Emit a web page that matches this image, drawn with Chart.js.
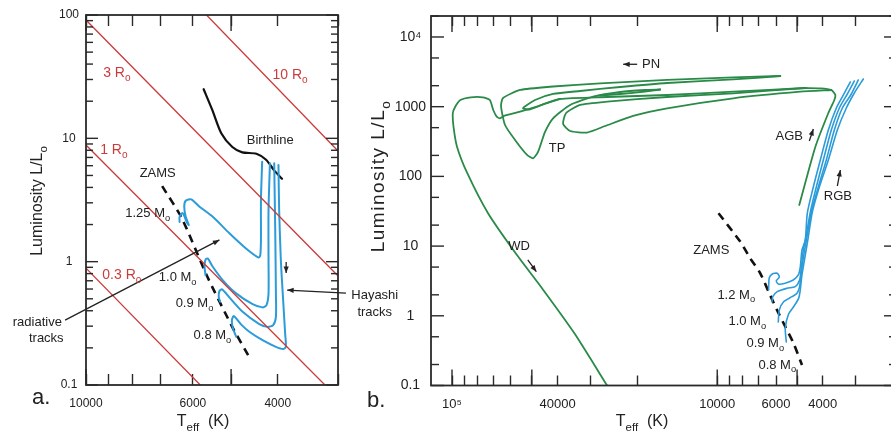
<!DOCTYPE html>
<html>
<head>
<meta charset="utf-8">
<script src="https://cdn.jsdelivr.net/npm/chart.js@4.4.1/dist/chart.umd.min.js"></script>
<style>
  html, body { margin: 0; padding: 0; background: #fff; overflow: hidden; width: 891px; height: 432px; }
  canvas { position: absolute; top: 0; }
  #chartA { left: 0; }
  #chartB { left: 350px; }
</style>
</head>
<body>
<canvas id="chartA" width="410" height="432"></canvas>
<canvas id="chartB" width="560" height="432"></canvas>
<script>
// ---------- panel a: pre-main-sequence (Teff in K, L in Lsun) ----------
const aBirthT = [5700, 5470, 5240, 4970, 4740, 4430, 4230, 4070, 3920];
const aBirthL = [25, 17, 11, 8.5, 7.7, 7.5, 6.7, 5.5, 4.7];

const aTrack125T = [4310, 4335, 4335, 4349, 4384, 4656, 5041, 5457, 5814, 6048, 6210, 6254, 6210, 6120, 6180, 6304, 6395, 6395];
const aTrack125L = [6.46, 3.16, 1.50, 1.13, 1.08, 1.28, 1.70, 2.31, 2.79, 3.20, 3.12, 2.79, 2.31, 1.98, 2.10, 2.48, 2.31, 2.10];
const aTrack10T = [4153, 4181, 4181, 4181, 4221, 4302, 4511, 4882, 5205, 5457, 5588, 5650, 5676, 5650];
const aTrack10L = [6.27, 2.62, 1.03, 0.553, 0.445, 0.426, 0.453, 0.553, 0.709, 0.909, 1.06, 1.04, 0.909, 0.779];
const aTrack09T = [4069, 4050, 4036, 4036, 4089, 4200, 4370, 4732, 5041, 5219, 5286, 5304, 5269];
const aTrack09L = [6.27, 1.92, 0.553, 0.357, 0.306, 0.296, 0.312, 0.392, 0.513, 0.596, 0.578, 0.519, 0.473];
const aTrack08T = [3987, 3974, 3942, 3899, 3862, 3849, 3899, 4036, 4302, 4583, 4768, 4934, 4981, 4957, 4875];
const aTrack08L = [6.08, 2.62, 1.03, 0.488, 0.262, 0.204, 0.196, 0.204, 0.231, 0.270, 0.310, 0.362, 0.336, 0.289, 0.245];

const aZamsT = [6950, 6330, 5596, 4970, 4572];
const aZamsL = [4.10, 2.26, 0.750, 0.295, 0.165];

// constant-radius lines (end points)
const aR10T = [5623, 3013];  const aR10L = [100, 8.04];
const aR3T = [10000, 3013];  const aR3L = [91, 0.78];
const aR1T = [10000, 3193];  const aR1L = [8.83, 0.1];
const aR03T = [10000, 5794]; const aR03L = [0.887, 0.1];

const aTicksX = [3000, 4000, 5000, 6000, 7000, 8000, 9000, 10000];
const aLabelsX = [10000, 6000, 4000];
const aMajorX = [5000, 10000];
const aTicksY = [0.1, 0.2, 0.3, 0.4, 0.5, 0.6, 0.7, 0.8, 0.9, 1, 2, 3, 4, 5, 6, 7, 8, 9,
                 10, 20, 30, 40, 50, 60, 70, 80, 90, 100];
const aLabelsY = [0.1, 1, 10, 100];
const aMajorY = [0.1, 1, 10, 100];

// ---------- panel b: full evolution ----------
const bWdT = [26010, 34550, 45280, 57540, 73140, 87560, 95750, 98700, 99300, 97250, 92960, 84930, 76520, 72000, 69900, 67830, 65920, 63660, 55380, 47910, 39120, 26010, 15440, 8700, 4656];
const bWdL = [0.1, 0.561, 2.35, 7.88, 29.6, 111, 267, 517, 804, 1000, 1248, 1364, 1364, 1248, 897, 719, 682, 736, 848, 1000, 1290, 1377, 1472, 1641, 1855];
const bPulseT = [5785, 8700, 15440, 27640, 41580, 55380, 64210, 65340, 63100, 57850, 52120, 49470, 47380, 44590, 41580, 35860, 29370, 23230, 18700, 16410];
const bPulseL = [2757, 2642, 2417, 2166, 1949, 1736, 1333, 1023, 546, 333, 203, 182, 224, 434, 682, 1058, 1391, 1625, 1736, 1765];
const bReturnT = [5785, 8700, 15440, 23230, 32890, 41580, 48620, 53490, 53960, 50780, 44590, 39120];
const bReturnL = [2757, 2457, 2188, 1917, 1680, 1521, 1248, 990, 942, 912, 1111, 1290];
const bTipT = [16410, 18700, 23230, 27640];
const bTipL = [1765, 1652, 1521, 1448];
const bLoopT = [3714, 4863, 8700, 15440, 20750, 26460, 30950, 35860, 38110, 37130, 32890, 26010, 15440, 8700, 4656];
const bLoopL = [1736, 1641, 1320, 948, 736, 528, 426, 448, 565, 812, 1058, 1180, 1377, 1557, 1855];
const bAgbT = [4906, 4268, 3811, 3618, 3586, 3714, 4086, 4656];
const bAgbL = [38.9, 264, 812, 1248, 1472, 1736, 1837, 1855];

const bTrk12T = [6404, 6366, 6202, 5938, 5834, 5990, 5886, 5587, 5167, 4947, 4863, 4791, 4656, 4574, 4342, 4086, 3811, 3555, 3345, 3148];
const bTrk12L = [2.35, 3.49, 3.98, 4.07, 3.60, 3.16, 2.86, 2.91, 3.26, 3.85, 5.01, 8.79, 12.2, 29.8, 70.5, 172, 463, 958, 1472, 2262];
const bTrk10T = [6218, 6175, 5938, 5458, 5079, 4891, 4819, 4737, 4616, 4457, 4231, 3981, 3714, 3464, 3231, 3041];
const bTrk10L = [1.58, 1.88, 2.22, 2.48, 2.62, 3.26, 4.85, 8.79, 14.4, 30.8, 70.5, 172, 463, 958, 1521, 2338];
const bTrk09T = [5886, 5834, 5620, 5226, 5003, 4891, 4819, 4696, 4574, 4418, 4158, 3879, 3618, 3375, 3121, 2938];
const bTrk09L = [0.815, 1.21, 1.59, 1.88, 2.10, 2.62, 4.25, 8.23, 14.4, 30.8, 70.5, 172, 463, 958, 1521, 2417];
const bTrk08T = [5490, 5538, 5382, 5154, 4934, 4863, 4799, 4656, 4536, 4380, 4122, 3811, 3525, 3260, 3041, 2813];
const bTrk08L = [0.421, 0.668, 1.06, 1.35, 1.78, 2.35, 3.72, 7.45, 13.5, 30.8, 70.5, 172, 463, 958, 1573, 2497];

const bZamsT = [9888, 8190, 7510, 6882, 6404, 5953, 5538, 5154, 4791];
const bZamsL = [29.6, 11.6, 6.68, 4.07, 2.22, 1.21, 0.698, 0.403, 0.197];

const bTicksX = [3000, 4000, 5000, 6000, 7000, 8000, 9000, 10000, 20000, 30000, 40000, 50000, 60000, 70000, 80000, 90000, 100000];
const bLabelsX = [100000, 40000, 10000, 6000, 4000];
const bMajorX = [5000, 10000, 50000, 100000];
const bTicksY = [0.1, 0.2, 0.5, 1, 2, 5, 10, 20, 50, 100, 200, 500, 1000, 2000, 5000, 10000, 20000];
const bLabelsY = [0.1, 1, 10, 100, 1000, 10000];
const bMajorY = [0.1, 1, 10, 100, 1000, 10000];

// ---------- styling ----------
const FONT = '"Liberation Sans", Arial, Helvetica, sans-serif';
const INK = '#222';
const FRAME = '#2a2a2a';
const RED = '#cc3b3b';
const BLUE = '#2b9bd9';
const GREEN = '#2a8a48';

Chart.defaults.font.family = FONT;
Chart.defaults.color = INK;

function pts(T, L) { return T.map((t, i) => ({ x: t, y: L[i] })); }

function line(T, L, color, width, extra) {
  return Object.assign({
    data: pts(T, L), xAxisID: 'x', yAxisID: 'y',
    borderColor: color, borderWidth: width, pointRadius: 0,
    fill: false, tension: 0.25, borderCapStyle: 'round', borderJoinStyle: 'round'
  }, extra || {});
}

function rich(ctx, parts, x, y, size, color, align, spacing) {
  if (spacing) ctx.letterSpacing = spacing + 'px';
  const segs = parts.map(([t, m]) => {
    const s = m ? size * 0.72 : size;
    ctx.font = s + 'px ' + FONT;
    return { t, m, s, w: ctx.measureText(t).width };
  });
  const total = segs.reduce((a, g) => a + g.w, 0);
  let cx = align === 'left' ? x : align === 'right' ? x - total : x - total / 2;
  ctx.fillStyle = color;
  ctx.textAlign = 'left';
  ctx.textBaseline = 'middle';
  segs.forEach(g => {
    ctx.font = g.s + 'px ' + FONT;
    const dy = g.m === 'sub' ? size * 0.38 : g.m === 'sup' ? -size * 0.4 : 0;
    ctx.fillText(g.t, cx, y + dy);
    cx += g.w;
  });
  if (spacing) ctx.letterSpacing = '0px';
}

function arrow(ctx, x1, y1, x2, y2, head) {
  ctx.beginPath(); ctx.moveTo(x1, y1); ctx.lineTo(x2, y2); ctx.stroke();
  const ang = Math.atan2(y2 - y1, x2 - x1);
  ctx.beginPath();
  ctx.moveTo(x2, y2);
  ctx.lineTo(x2 - head * Math.cos(ang - 0.38), y2 - head * Math.sin(ang - 0.38));
  ctx.lineTo(x2 - head * Math.cos(ang + 0.38), y2 - head * Math.sin(ang + 0.38));
  ctx.closePath(); ctx.fill();
}

// frame, y ticks, longer major x ticks, notes and titles
function makeDecor(o) {
  return {
    id: 'decor',
    afterDraw(chart) {
      const ctx = chart.ctx;
      const a = chart.chartArea;
      const xs = chart.scales.x;
      const ys = chart.scales.y;
      ctx.save();
      ctx.fillStyle = FRAME;
      o.xMajor.forEach(v => {
        const px = xs.getPixelForValue(v);
        ctx.fillRect(px - 0.7, a.bottom - o.xMajorLen, 1.4, o.xMajorLen);
        ctx.fillRect(px - 0.7, a.top, 1.4, o.xMajorLen);
      });
      o.yTicks.forEach(v => {
        const py = ys.getPixelForValue(v);
        const len = o.yMajor.includes(v) ? o.yLen.major : o.yLen.minor;
        ctx.fillRect(a.left, py - 0.7, len, 1.4);
        ctx.fillRect(a.right - len, py - 0.7, len, 1.4);
      });
      ctx.strokeStyle = FRAME;
      ctx.lineWidth = 1.8;
      ctx.strokeRect(a.left, a.top, a.right - a.left, a.bottom - a.top);

      ctx.strokeStyle = INK; ctx.fillStyle = INK; ctx.lineWidth = 1.3;
      o.arrows.forEach(r => arrow(ctx,
        xs.getPixelForValue(r.T[0]), ys.getPixelForValue(r.L[0]),
        xs.getPixelForValue(r.T[1]), ys.getPixelForValue(r.L[1]), 7));
      o.notes.forEach(n => rich(ctx, n.p, xs.getPixelForValue(n.T), ys.getPixelForValue(n.L), n.s, n.c || INK));

      // axis titles
      rich(ctx, [['T'], ['eff', 'sub'], ['  (K)']], o.xTitle.x, o.xTitle.y, 16, INK);
      ctx.save();
      ctx.translate(o.yTitle.x, o.yTitle.y);
      ctx.rotate(-Math.PI / 2);
      rich(ctx, [['Luminosity L/L'], ['o', 'sub']], 0, 0, o.yTitle.size, INK, 'center', o.yTitle.spacing);
      ctx.restore();
      rich(ctx, [[o.tag.text]], o.tag.x, o.tag.y, 22, INK, 'left');
      ctx.restore();
    }
  };
}

// x ticks are drawn by Chart.js itself: a negative tick length points them into the plot
function axes(p) {
  const tickGrid = {
    display: true, drawOnChartArea: false, drawTicks: true,
    tickLength: -p.xTickLen, tickColor: FRAME, tickWidth: 1.4
  };
  const xTickList = s => { s.ticks = p.xTicks.map(v => ({ value: v })); };
  return {
    x: {
      type: 'logarithmic', position: 'bottom', reverse: true, min: p.xMin, max: p.xMax,
      grid: tickGrid, border: { display: false },
      afterBuildTicks: xTickList,
      afterFit: s => { s.height = p.xH; },
      ticks: {
        autoSkip: false, maxRotation: 0, minRotation: 0, padding: 11 + p.xTickLen, color: INK,
        font: { size: p.xFont },
        callback: v => p.xLabels.includes(v) ? (v === 100000 ? '10\u2075' : String(v)) : ''
      }
    },
    y: {
      type: 'logarithmic', position: 'left', min: p.yMin, max: p.yMax,
      grid: { display: false, drawTicks: false }, border: { display: false },
      afterBuildTicks: s => { s.ticks = p.yTicks.map(v => ({ value: v })); },
      afterFit: s => { s.width = p.yW; },
      ticks: {
        autoSkip: false, padding: p.yPad, crossAlign: 'center', color: INK,
        font: { size: p.yFont },
        callback: v => p.yLabels.includes(v) ? (v === 10000 ? '10\u2074' : String(v)) : ''
      }
    },
    xTop: {
      type: 'logarithmic', position: 'top', reverse: true, min: p.xMin, max: p.xMax,
      grid: tickGrid, border: { display: false },
      afterBuildTicks: xTickList,
      afterFit: s => { s.height = 0; },
      ticks: { display: false }
    }
  };
}

// ---------- panel a ----------
new Chart(document.getElementById('chartA'), {
  type: 'line',
  data: {
    datasets: [
      line(aR10T, aR10L, RED, 1.3, { tension: 0 }),
      line(aR3T, aR3L, RED, 1.3, { tension: 0 }),
      line(aR1T, aR1L, RED, 1.3, { tension: 0 }),
      line(aR03T, aR03L, RED, 1.3, { tension: 0 }),
      line(aTrack125T, aTrack125L, BLUE, 2),
      line(aTrack10T, aTrack10L, BLUE, 2),
      line(aTrack09T, aTrack09L, BLUE, 2),
      line(aTrack08T, aTrack08L, BLUE, 2),
      line(aBirthT, aBirthL, '#111', 2.2),
      line(aZamsT, aZamsL, '#111', 2.6, { borderDash: [8, 6], tension: 0.2, borderCapStyle: 'butt' })
    ]
  },
  options: {
    responsive: false, animation: false, devicePixelRatio: 1, events: [],
    layout: { padding: { left: 0, top: 15, right: 72, bottom: 0 } },
    plugins: { legend: { display: false }, tooltip: { enabled: false } },
    scales: axes({
      xMin: 3000, xMax: 10000, xTicks: aTicksX, xLabels: aLabelsX, xH: 47, xFont: 12, xTickLen: 11,
      yMin: 0.1, yMax: 100, yTicks: aTicksY, yLabels: aLabelsY, yW: 86, yPad: 7, yFont: 12
    })
  },
  plugins: [makeDecor({
    yTicks: aTicksY, xMajor: aMajorX, yMajor: aMajorY,
    xMajorLen: 16, yLen: { major: 12, minor: 7 },
    xTitle: { x: 203, y: 422 }, yTitle: { x: 38, y: 201, size: 16, spacing: 0 },
    tag: { text: 'a.', x: 32, y: 398 },
    arrows: [
      { T: [11050, 5286], L: [0.336, 1.50] },
      { T: [2888, 3825], L: [0.556, 0.588] },
      { T: [3843, 3843], L: [0.993, 0.808] }
    ],
    notes: [
      { p: [['3 R'], ['o', 'sub']], T: 8630, L: 33.8, s: 14, c: RED },
      { p: [['10 R'], ['o', 'sub']], T: 3771, L: 32.6, s: 14, c: RED },
      { p: [['1 R'], ['o', 'sub']], T: 8754, L: 8.04, s: 14, c: RED },
      { p: [['0.3 R'], ['o', 'sub']], T: 8425, L: 0.778, s: 14, c: RED },
      { p: [['Birthline']], T: 4147, L: 9.69, s: 13 },
      { p: [['ZAMS']], T: 7100, L: 5.23, s: 13 },
      { p: [['1.25 M'], ['o', 'sub']], T: 7446, L: 2.48, s: 13 },
      { p: [['1.0 M'], ['o', 'sub']], T: 6454, L: 0.750, s: 13 },
      { p: [['0.9 M'], ['o', 'sub']], T: 5955, L: 0.461, s: 13 },
      { p: [['0.8 M'], ['o', 'sub']], T: 5466, L: 0.254, s: 13 },
      { p: [['radiative']], T: 12620, L: 0.324, s: 13 },
      { p: [['tracks']], T: 12090, L: 0.240, s: 13 },
      { p: [['Hayashi']], T: 2517, L: 0.536, s: 13 },
      { p: [['tracks']], T: 2517, L: 0.390, s: 13 }
    ]
  })]
});

// ---------- panel b ----------
new Chart(document.getElementById('chartB'), {
  type: 'line',
  data: {
    datasets: [
      line(bWdT, bWdL, GREEN, 1.8, { tension: 0.2 }),
      line(bPulseT, bPulseL, GREEN, 1.8, { tension: 0.2 }),
      line(bReturnT, bReturnL, GREEN, 1.8, { tension: 0.2 }),
      line(bTipT, bTipL, GREEN, 1.8, { tension: 0.2 }),
      line(bLoopT, bLoopL, GREEN, 1.8, { tension: 0.2 }),
      line(bAgbT, bAgbL, GREEN, 1.8, { tension: 0.2 }),
      line(bTrk12T, bTrk12L, BLUE, 1.6),
      line(bTrk10T, bTrk10L, BLUE, 1.6),
      line(bTrk09T, bTrk09L, BLUE, 1.6),
      line(bTrk08T, bTrk08L, BLUE, 1.6),
      line(bZamsT, bZamsL, '#111', 2.6, { borderDash: [8, 6], tension: 0.2, borderCapStyle: 'butt' })
    ]
  },
  options: {
    responsive: false, animation: false, devicePixelRatio: 1, events: [],
    layout: { padding: { left: 0, top: 16, right: 13, bottom: 0 } },
    plugins: { legend: { display: false }, tooltip: { enabled: false } },
    scales: axes({
      xMin: 2100, xMax: 120000, xTicks: bTicksX, xLabels: bLabelsX, xH: 46.5, xFont: 13, xTickLen: 10,
      yMin: 0.1, yMax: 20000, yTicks: bTicksY, yLabels: bLabelsY, yW: 81, yPad: 5, yFont: 14
    })
  },
  plugins: [makeDecor({
    yTicks: bTicksY, xMajor: bMajorX, yMajor: bMajorY,
    xMajorLen: 16, yLen: { major: 13, minor: 8 },
    xTitle: { x: 292, y: 422 }, yTitle: { x: 29, y: 176, size: 19, spacing: 1.5 },
    tag: { text: 'b.', x: 17, y: 401 },
    arrows: [
      { T: [20040, 22630], L: [4058, 4058] },
      { T: [4497, 4342], L: [322, 479] },
      { T: [3525, 3434], L: [72.8, 123.5] },
      { T: [51800, 48080], L: [6.32, 4.29] }
    ],
    notes: [
      { p: [['PN']], T: 17750, L: 4058, s: 13 },
      { p: [['TP']], T: 40170, L: 253, s: 13 },
      { p: [['AGB']], T: 5349, L: 371, s: 13 },
      { p: [['RGB']], T: 3510, L: 51.1, s: 13 },
      { p: [['WD']], T: 55870, L: 10.0, s: 13 },
      { p: [['ZAMS']], T: 10530, L: 8.59, s: 13 },
      { p: [['1.2 M'], ['o', 'sub']], T: 8479, L: 1.99, s: 13 },
      { p: [['1.0 M'], ['o', 'sub']], T: 7705, L: 0.823, s: 13 },
      { p: [['0.9 M'], ['o', 'sub']], T: 6590, L: 0.403, s: 13 },
      { p: [['0.8 M'], ['o', 'sub']], T: 5938, L: 0.197, s: 13 }
    ]
  })]
});
</script>
</body>
</html>
